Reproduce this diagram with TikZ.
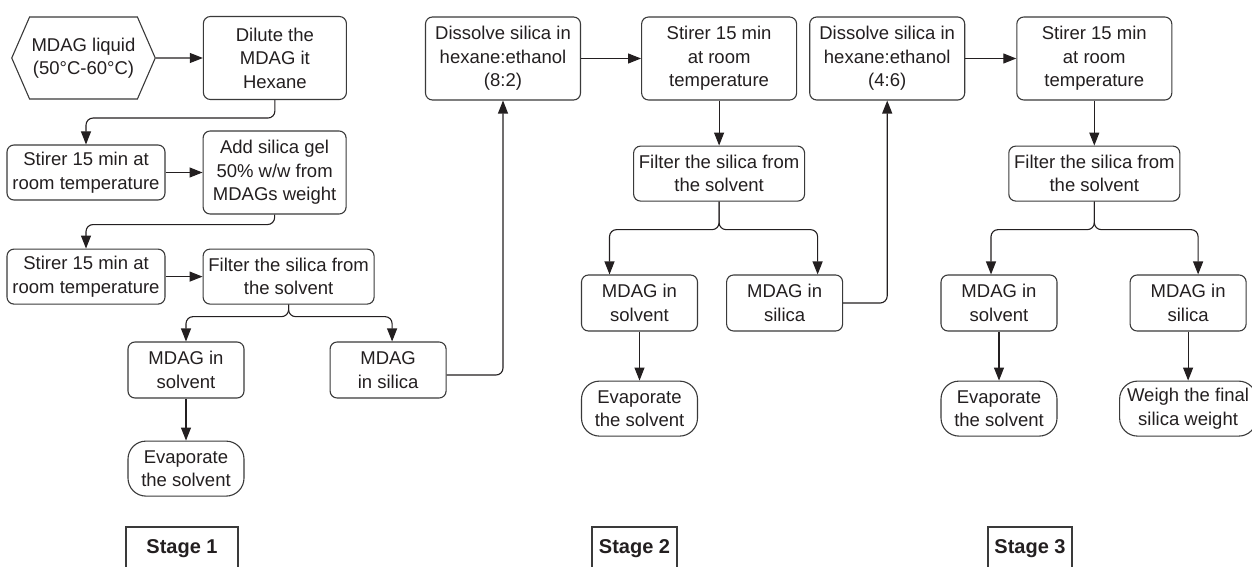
\documentclass[tikz,border=0pt]{standalone}
\usepackage{fontspec}
\setmainfont{Liberation Sans}
\usetikzlibrary{positioning,calc,arrows.meta,shapes.symbols}
\definecolor{txt}{HTML}{231F20}
\definecolor{lnB}{HTML}{3A3A3A}
\definecolor{bxF}{HTML}{FFFFFF}

\begin{document}
\begin{tikzpicture}[
  x=1pt,y=-1pt,
  font=\fontsize{18.5}{23.5}\selectfont,text=txt,
  >={Triangle[length=13pt,width=10pt]},
  arr/.style={draw=txt,line width=1.1pt,->,rounded corners=7pt},
  box/.style={rectangle,rounded corners=7pt,line width=1.1pt,fill=bxF,draw=lnB,align=center,inner sep=2pt},
  tall/.style={box,minimum width=143pt,minimum height=83pt},
  stir/.style={box,minimum width=158pt,minimum height=55pt},
  flt/.style={box,minimum width=171pt,minimum height=55pt},
  pair/.style={box,minimum width=116pt,minimum height=56pt},
  fin/.style={pair,rounded corners=18pt,minimum height=55pt},
  hexa/.style={signal,signal to=west and east,signal pointer angle=133,line width=1.1pt,fill=bxF,draw=lnB,align=center,inner sep=2pt,minimum width=143pt,minimum height=82pt},
  stg/.style={rectangle,line width=1.1pt,draw=lnB,font=\fontsize{20}{24}\selectfont\bfseries,minimum height=44pt},
  ]
\useasboundingbox (0,0) rectangle (1252,567);
\clip (0,0) rectangle (1252,567);

% ---- stage 1 ----
\node[hexa] (liq) at (83.5,58) {MDAG liquid\\(50°C-60°C)};
\node[tall,right=47pt of liq] (dil) {Dilute the\\MDAG it\\Hexane};
\node[stir] (stA) at (86,172.5) {Stirer 15 min at\\room temperature};
\node[tall,right=37pt of stA] (gel) {Add silica gel\\50\% w/w from\\MDAGs weight};
\node[stir,below=48pt of stA] (stB) {Stirer 15 min at\\room temperature};
\node[flt,right=37pt of stB] (filA) {Filter the silica from\\the solvent};
\node[pair] (solA) at (186,370) {MDAG in\\solvent};
\node[pair,right=85pt of solA] (inA) {MDAG\\in silica};
\node[fin,below=42pt of solA] (evA) {Evaporate\\the solvent};

% ---- stage 2 ----
\node[tall,minimum width=155pt] (disA) at (503,58.5) {Dissolve silica in\\hexane:ethanol\\(8:2)};
\node[tall,minimum width=155pt,right=60pt of disA] (stC) {Stirer 15 min\\at room\\temperature};
\node[flt,below=45pt of stC] (filB) {Filter the silica from\\the solvent};
\node[pair] (solB) at (639.5,303) {MDAG in\\solvent};
\node[pair,right=28pt of solB] (inB) {MDAG in\\silica};
\node[fin,below=49pt of solB] (evB) {Evaporate\\the solvent};

% ---- stage 3 ----
\node[tall,minimum width=155pt,right=12pt of stC] (disB) {Dissolve silica in\\hexane:ethanol\\(4:6)};
\node[tall,minimum width=155pt,right=51pt of disB] (stD) {Stirer 15 min\\at room\\temperature};
\node[flt,below=45pt of stD] (filC) {Filter the silica from\\the solvent};
\node[pair] (solC) at (999,303) {MDAG in\\solvent};
\node[pair,right=72pt of solC] (inC) {MDAG in\\silica};
\node[fin,below=49pt of solC] (evC) {Evaporate\\the solvent};
\node[fin,minimum width=137pt,below=49pt of inC] (wgt) {Weigh the final\\silica weight};

% ---- stage labels ----
\node[stg,minimum width=112pt] (sgA) at (182,549) {Stage 1};
\node[stg,minimum width=85pt] (sgB) at (634.5,549) {Stage 2};
\node[stg,minimum width=84pt] (sgC) at (1030,549) {Stage 3};

% ---- edges ----
\draw[arr] (liq) -- (dil);
\draw[arr] (dil.south) -- ++(0,18) -| (stA.north);
\draw[arr] (stA.east) -- (stA.east -| gel.west);
\draw[arr] (gel.south) -- ++(0,10) -| (stB.north);
\draw[arr] (stB) -- (filA);
\draw[arr] (filA.south) -- ++(0,12) -| (solA.north);
\draw[arr] (filA.south) -- ++(0,12) -| ([xshift=4pt]inA.north);
\draw[arr] (solA) -- (evA);
\draw[arr] ([yshift=-5pt]inA.east) -| (disA.south);

\draw[arr] (disA) -- (stC);
\draw[arr] (stC) -- (filB);
\draw[arr] (filB.south) -- ++(0,28) -| ([xshift=-30pt]solB.north);
\draw[arr] (filB.south) -- ++(0,28) -| ([xshift=33pt]inB.north);
\draw[arr] (solB) -- (evB);
\draw[arr] (inB.east) -| (disB.south);

\draw[arr] (disB) -- (stD);
\draw[arr] (stD) -- (filC);
\draw[arr] (filC.south) -- ++(0,28) -| ([xshift=-8pt]solC.north);
\draw[arr] (filC.south) -- ++(0,28) -| ([xshift=10pt]inC.north);
\draw[arr] (solC) -- (evC);
\draw[arr] (inC) -- (wgt);

\end{tikzpicture}
\end{document}
